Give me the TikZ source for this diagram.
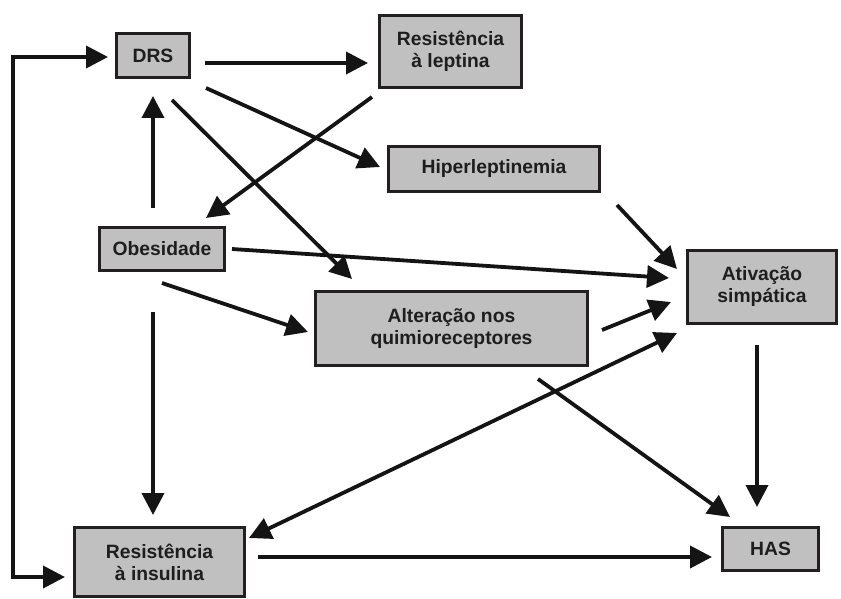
\documentclass[tikz,border=0pt]{standalone}
\usepackage{fontspec}
\setmainfont{Liberation Sans}
\usetikzlibrary{arrows.meta}
\definecolor{boxfill}{HTML}{C0C0C0}
\definecolor{boxline}{HTML}{231F20}
\definecolor{txt}{HTML}{1E1E1E}
\definecolor{arr}{HTML}{141414}
\begin{document}
\begin{tikzpicture}[x=1pt,y=-1pt,
  box/.style={draw=boxline, fill=boxfill, line width=3pt, inner sep=0pt,
    align=center, text=txt, font=\fontsize{19.3}{22}\selectfont\bfseries},
  conn/.style={draw=arr, line width=3.8pt, -{Triangle[length=22pt,width=22pt]}},
  bconn/.style={draw=arr, line width=3.8pt, {Triangle[length=22pt,width=22pt]}-{Triangle[length=22pt,width=22pt]}}
]
\useasboundingbox (0,0) rectangle (841,599);
% nodes
\node[box, minimum width=73pt, minimum height=44pt] (drs) at (153,55.5) {DRS};
\node[box, minimum width=142pt, minimum height=72pt] (lep) at (450.5,51.5) {Resistência\\à leptina};
\node[box, minimum width=211pt, minimum height=45pt] (hip) at (494,169) {Hiperleptinemia};
\node[box, minimum width=125pt, minimum height=43pt] (obe) at (162,249) {Obesidade};
\node[box, minimum width=272pt, minimum height=74pt] (alt) at (451.5,328.5) {Alteração nos\\quimioreceptores};
\node[box, minimum width=149pt, minimum height=73pt] (ati) at (762,287) {Ativação\\simpática};
\node[box, minimum width=170pt, minimum height=69pt] (ins) at (159.5,562) {Resistência\\à insulina};
\node[box, minimum width=96pt, minimum height=43pt] (has) at (770.5,549) {HAS};
% connector end points
\coordinate (drsE1) at (205,63);   \coordinate (lepW) at (368,63);
\coordinate (drsE2) at (206,88);   \coordinate (hipW) at (380,167);
\coordinate (drsS) at (172,100);   \coordinate (altN) at (352,279);
\coordinate (lepSW) at (372,97);   \coordinate (obeNE) at (206,218);
\coordinate (obeN) at (153,208);   \coordinate (drsS2) at (153,96);
\coordinate (obeE) at (232,249);   \coordinate (atiW2) at (669,278);
\coordinate (obeSE) at (162,283);  \coordinate (altW) at (308,332);
\coordinate (obeS) at (153,312);   \coordinate (insN) at (153,515);
\coordinate (hipSE) at (617,205);  \coordinate (atiW1) at (677,269);
\coordinate (altE) at (602,330);   \coordinate (atiW3) at (671,302);
\coordinate (atiW4) at (677,333);  \coordinate (insNE) at (249,538);
\coordinate (altSE) at (538,379);  \coordinate (hasNW) at (730,517);
\coordinate (atiS) at (757,345);   \coordinate (hasN) at (757,507);
\coordinate (insE) at (258,557);   \coordinate (hasW) at (712,557);
\coordinate (drsW) at (108,57);    \coordinate (insW) at (65,577);
% connectors
\draw[conn] (drsE1) -- (lepW);
\draw[conn] (drsE2) -- (hipW);
\draw[conn] (drsS) -- (altN);
\draw[conn] (lepSW) -- (obeNE);
\draw[conn] (obeN) -- (drsS2);
\draw[conn] (obeE) -- (atiW2);
\draw[conn] (obeSE) -- (altW);
\draw[conn] (obeS) -- (insN);
\draw[conn] (hipSE) -- (atiW1);
\draw[conn] (altE) -- (atiW3);
\draw[bconn] (atiW4) -- (insNE);
\draw[conn] (altSE) -- (hasNW);
\draw[conn] (atiS) -- (hasN);
\draw[conn] (insE) -- (hasW);
\draw[bconn] (drsW) -| (13,317) |- (insW);
\end{tikzpicture}
\end{document}
